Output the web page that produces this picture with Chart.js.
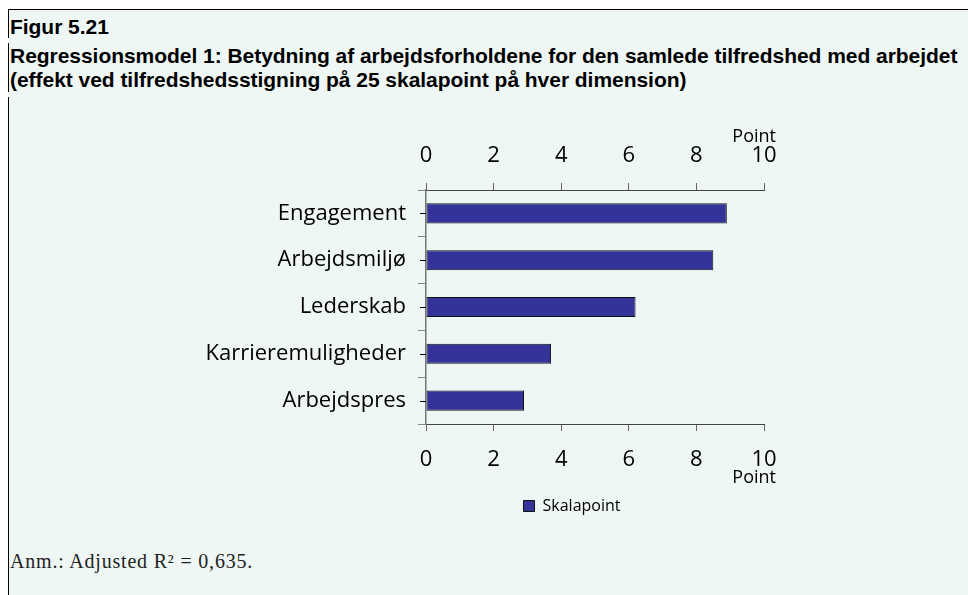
<!DOCTYPE html>
<html>
<head>
<meta charset="utf-8">
<script src="https://cdn.jsdelivr.net/npm/chart.js@4.4.1/dist/chart.umd.min.js"></script>
<style>
  html, body { margin: 0; padding: 0; background: #ffffff; }
  #wrap { position: relative; width: 968px; height: 595px; overflow: hidden; background: #ffffff; }
  #panel { position: absolute; left: 9px; top: 10px; right: 0; bottom: 0; background: #eff7f5; }
  .hline { position: absolute; left: 8px; top: 9px; width: 960px; height: 1px; background: #000; }
  .vseg { position: absolute; left: 8px; width: 1px; background: #000; }
  .t { position: absolute; left: 10px; white-space: nowrap; color: #000;
       font-family: "Liberation Sans", Arial, sans-serif; font-weight: bold; font-size: 21px; letter-spacing: -0.04px; }
  #note { position: absolute; left: 10px; top: 550px; font-family: "Liberation Serif", "Times New Roman", serif;
          font-size: 20px; letter-spacing: 0.8px; color: #222; white-space: nowrap; }
  #c { position: absolute; left: 0; top: 0; }
</style>
</head>
<body>
<div id="wrap">
  <div id="panel"></div>
  <div class="hline"></div>
  <div class="vseg" style="top:10px;height:28px"></div>
  <div class="vseg" style="top:43px;height:49px"></div>
  <div class="vseg" style="top:97px;height:498px"></div>
  <div class="t" style="top:15px">Figur 5.21</div>
  <div class="t" style="top:44px">Regressionsmodel 1: Betydning af arbejdsforholdene for den samlede tilfredshed med arbejdet</div>
  <div class="t" style="top:68px">(effekt ved tilfredshedsstigning på 25 skalapoint på hver dimension)</div>
  <div id="note">Anm.: Adjusted R² = 0,635.</div>
  <canvas id="c" width="968" height="595"></canvas>
</div>
<script>
const categories = ['Engagement', 'Arbejdsmiljø', 'Lederskab', 'Karrieremuligheder', 'Arbejdspres'];
const values = [8.9, 8.5, 6.2, 3.7, 2.9];
const seriesName = 'Skalapoint';
const axisMin = 0;
const axisMax = 10;
const axisStep = 2;
const axisTitle = 'Point';

const FONT = "'Open Sans', 'Noto Sans', sans-serif";

const extras = {
  id: 'extras',
  afterDraw(chart) {
    const ctx = chart.ctx;
    const y = chart.scales.y;
    const x = chart.scales.x;
    const area = chart.chartArea;
    ctx.save();
    // center tick marks on the category axis
    ctx.strokeStyle = '#000';
    ctx.lineWidth = 1;
    categories.forEach((c, i) => {
      const py = Math.round(y.getPixelForValue(i)) + 0.5;
      ctx.beginPath();
      ctx.moveTo(area.left - 6, py);
      ctx.lineTo(area.left, py);
      ctx.stroke();
    });
    // axis titles
    ctx.fillStyle = '#000';
    ctx.font = "18px " + FONT;
    ctx.textAlign = 'right';
    ctx.textBaseline = 'alphabetic';
    const rx = x.getPixelForValue(axisMax) + 12;
    ctx.fillText(axisTitle, rx, area.top - 48);
    ctx.fillText(axisTitle, rx, area.bottom + 59);
    ctx.restore();
  }
};

const xCommon = {
  type: 'linear',
  min: axisMin,
  max: axisMax,
  ticks: { stepSize: axisStep, color: '#000', font: { family: FONT, size: 22 } },
  grid: { drawOnChartArea: false, drawTicks: true, tickLength: 7, color: '#666' },
  border: { color: '#444', width: 1 }
};

new Chart(document.getElementById('c'), {
  type: 'bar',
  data: {
    labels: categories,
    datasets: [{
      label: seriesName,
      data: values,
      backgroundColor: '#333399',
      borderColor: '#111',
      borderWidth: 1,
      borderSkipped: false,
      categoryPercentage: 1,
      barPercentage: 0.43
    }]
  },
  plugins: [extras],
  options: {
    indexAxis: 'y',
    responsive: false,
    animation: false,
    layout: { padding: { left: 176, right: 0, top: 0, bottom: 71 } },
    scales: {
      x: Object.assign({}, xCommon, {
        position: 'bottom',
        ticks: Object.assign({}, xCommon.ticks, { padding: 16 }),
        afterFit(s) { s.height = 64; s.paddingLeft = 0; s.paddingRight = 0; }
      }),
      x2: Object.assign({}, xCommon, {
        axis: 'x',
        position: 'top',
        ticks: Object.assign({}, xCommon.ticks, { padding: 14 }),
        afterFit(s) { s.height = 190; s.paddingLeft = 0; s.paddingRight = 0; }
      }),
      y: {
        type: 'category',
        position: 'left',
        offset: true,
        ticks: { color: '#000', font: { family: FONT, size: 22 }, padding: 12 },
        grid: { offset: true, drawOnChartArea: false, tickLength: 8, color: '#888' },
        border: { color: '#777', width: 1.5 },
        afterFit(s) { s.width = 250; }
      },
      ySpacer: {
        type: 'category',
        axis: 'y',
        position: 'right',
        display: true,
        ticks: { display: false },
        grid: { display: false, drawTicks: false },
        border: { display: false },
        afterFit(s) { s.width = 204; }
      }
    },
    plugins: {
      legend: {
        position: 'bottom',
        labels: { boxWidth: 11, boxHeight: 11, padding: 10, color: '#000', font: { family: FONT, size: 16 } }
      },
      tooltip: { enabled: false },
      title: { display: false }
    }
  }
});
</script>
</body>
</html>
